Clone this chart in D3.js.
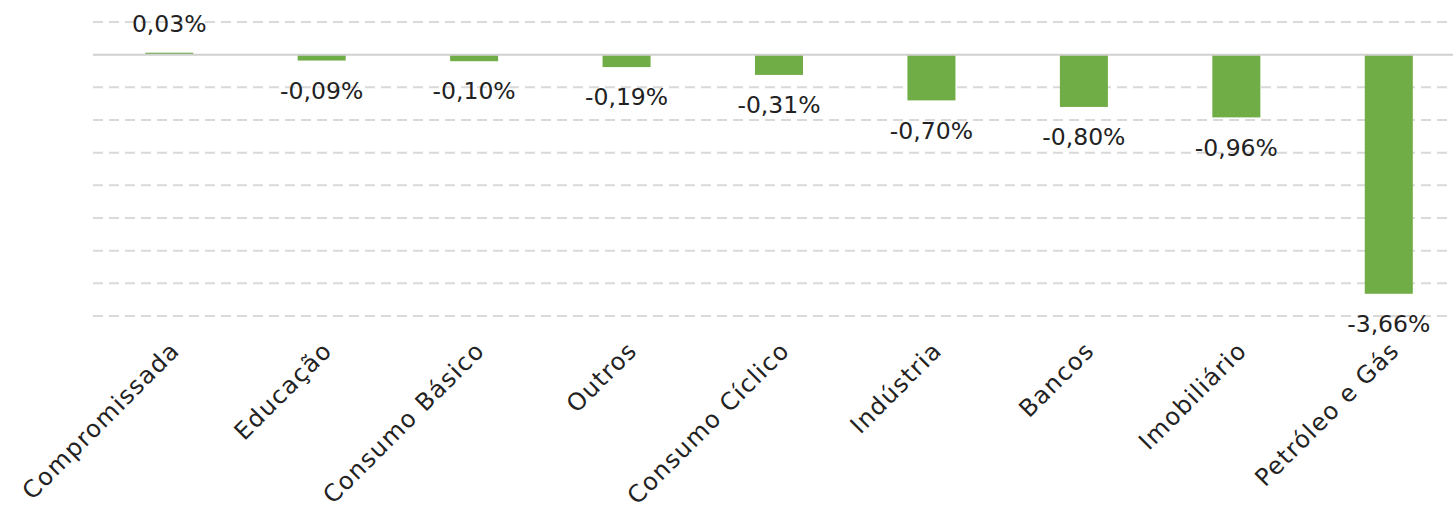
<!DOCTYPE html>
<html><head><meta charset="utf-8">
<script src="https://cdn.jsdelivr.net/npm/d3@7"></script>
<style>body{margin:0;background:#fff}svg{display:block}</style>
</head><body>
<script>
const categories = ["Compromissada","Educação","Consumo Básico","Outros","Consumo Cíclico","Indústria","Bancos","Imobiliário","Petróleo e Gás"];
const values = [0.03,-0.09,-0.10,-0.19,-0.31,-0.70,-0.80,-0.96,-3.66];
const gridTicks = [0.5,0,-0.5,-1,-1.5,-2,-2.5,-3,-3.5,-4];

const W = 1453, H = 509;
const font = "'DejaVu Sans', sans-serif";
const svg = d3.select("body").append("svg").attr("width", W).attr("height", H);

const y = d3.scaleLinear().domain([-4, 0.5]).range([316, 22]);
const x = d3.scaleBand().domain(categories).range([93, 1465]).paddingInner(0.685).paddingOuter(0.3425);

const fmt = v => d3.format(".2f")(v).replace(".", ",").replace("−","-") + "%";

// grid
svg.append("g").selectAll("line").data(gridTicks.filter(d => d !== 0)).join("line")
  .attr("x1", 93).attr("x2", W).attr("y1", d => y(d)).attr("y2", d => y(d))
  .attr("stroke", "#d9d9d9").attr("stroke-width", 2).attr("stroke-dasharray", "10,6");

// bars
svg.append("g").selectAll("rect").data(values).join("rect")
  .attr("x", (d, i) => x(categories[i]))
  .attr("width", x.bandwidth())
  .attr("y", d => Math.min(y(d), y(0)))
  .attr("height", d => Math.abs(y(d) - y(0)))
  .attr("fill", "#70ad47");

// zero line
svg.append("line").attr("x1", 93).attr("x2", W).attr("y1", y(0)).attr("y2", y(0))
  .attr("stroke", "#d0d0d0").attr("stroke-width", 2);

// value labels
svg.append("g").selectAll("text").data(values).join("text")
  .attr("x", (d, i) => x(categories[i]) + x.bandwidth() / 2)
  .attr("y", d => d >= 0 ? y(d) - 29 : y(d) + 30)
  .attr("dy", "0.35em")
  .attr("text-anchor", "middle")
  .attr("font-family", font).attr("font-size", 23.5).attr("fill", "#222")
  .text(d => fmt(d));

// category axis labels
const xAxis = d3.axisBottom(x).tickSize(0).tickPadding(0);
const ax = svg.append("g").attr("transform", `translate(0,${y(-4) + 30})`).call(xAxis);
ax.select(".domain").remove();
ax.selectAll("text")
  .attr("font-family", font).attr("font-size", 24).attr("fill", "#222")
  .attr("letter-spacing", 1.3)
  .attr("text-anchor", "end")
  .attr("dy", "0.35em")
  .attr("transform", "translate(6,0) rotate(-45)");
</script>
</body></html>
